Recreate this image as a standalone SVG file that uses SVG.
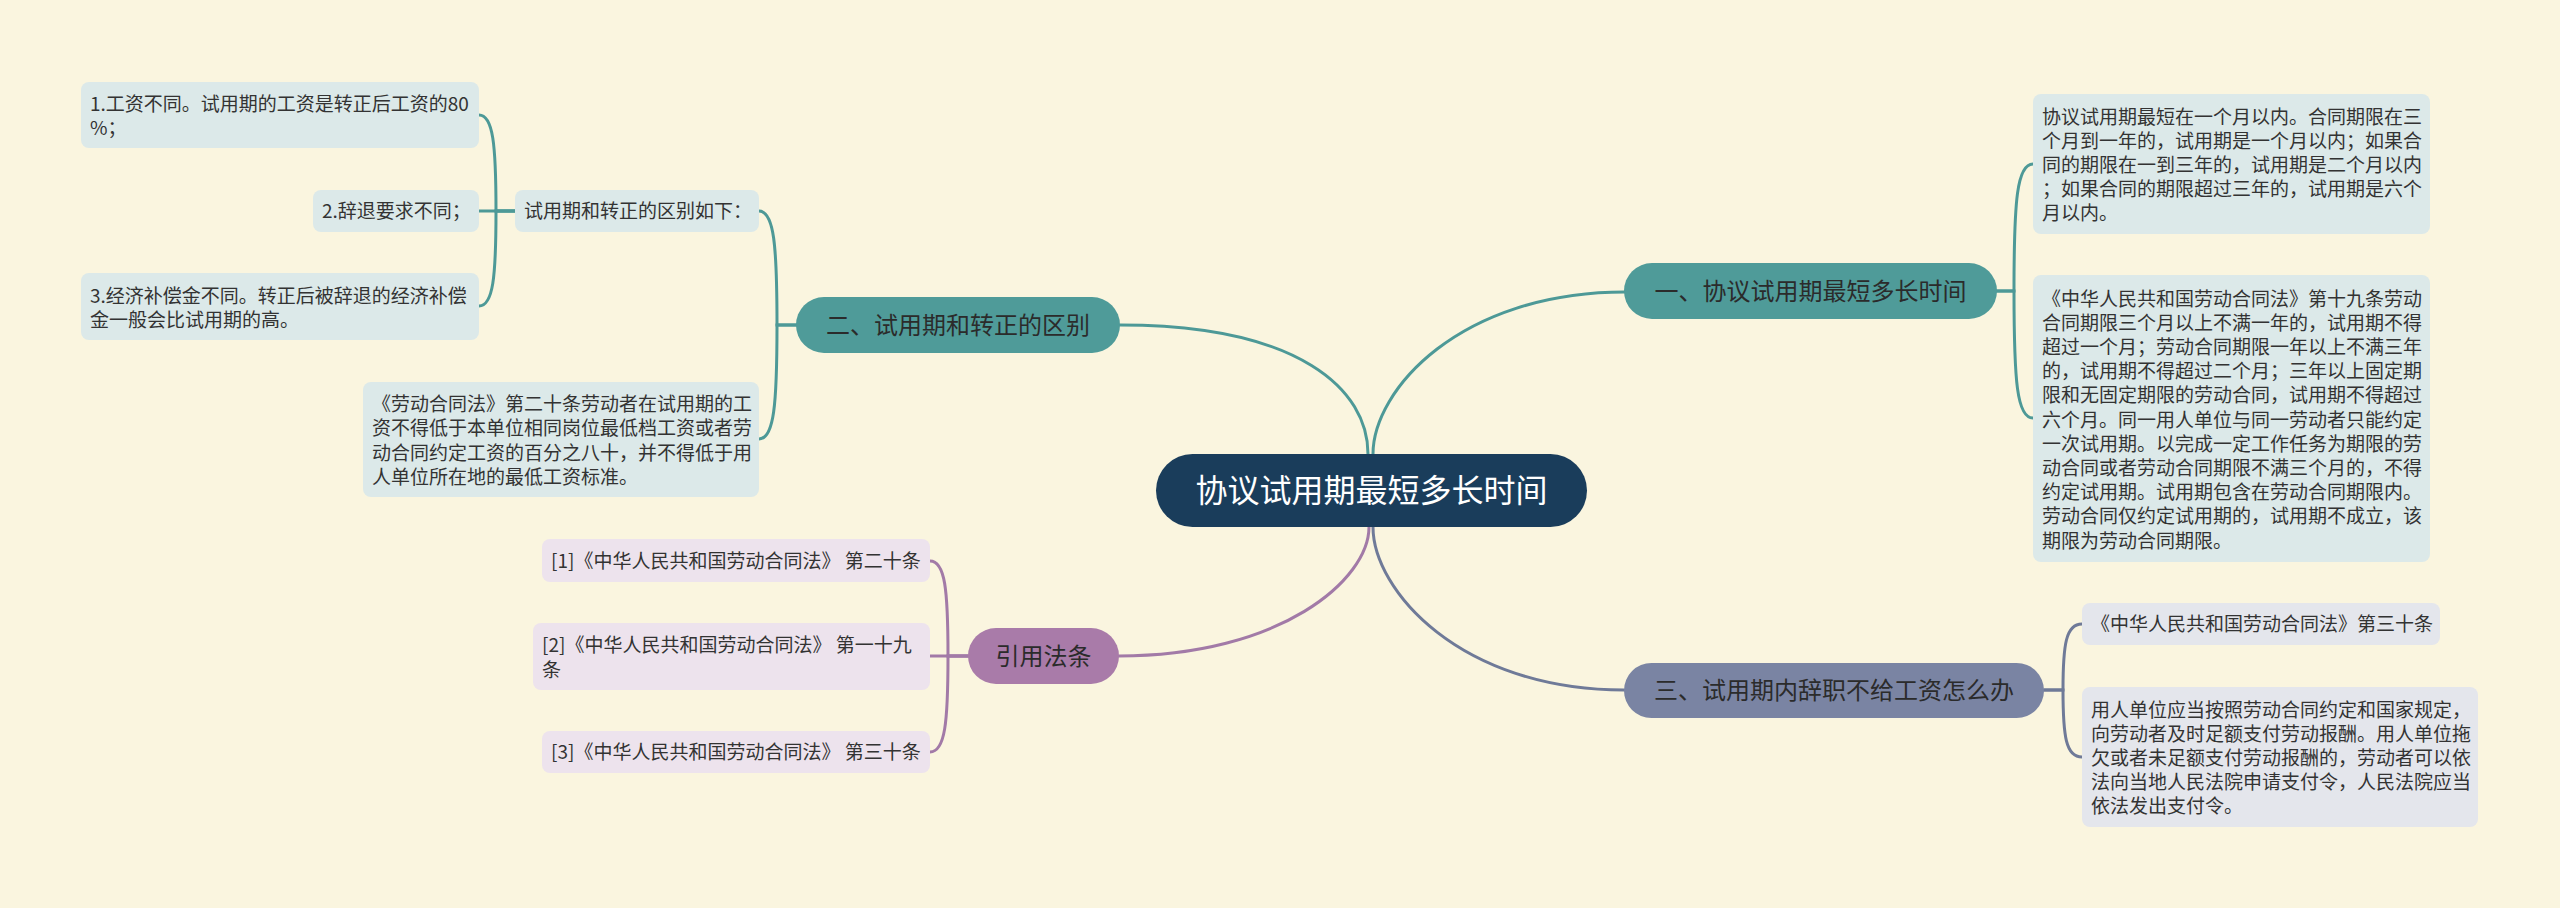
<svg xmlns="http://www.w3.org/2000/svg" width="2560" height="908" viewBox="0 0 2560 908">
<style>
  text { font-family: "Noto Sans CJK SC", "Noto Sans", "Liberation Sans", sans-serif; }
  .t { font-size: 19px; fill: #333333; }
  .br { font-size: 24px; fill: #2b2b2b; text-anchor: middle; }
  .root { font-size: 32px; fill: #ffffff; text-anchor: middle; }
  .c { fill: none; stroke-width: 3; stroke-linecap: round; }
  .teal { stroke: #4d9997; }
  .purple { stroke: #a27aa7; }
  .slate { stroke: #6f7a98; }
  .bt { fill: #dce9e9; }
  .bp { fill: #ede3ed; }
  .bs { fill: #e4e6ec; }
</style>
<rect width="2560" height="908" fill="#faf5df"/>

<g id="connectors">
  <path class="c teal" d="M 1373 454 C 1373 390, 1460 292, 1625 292"/>
  <path class="c teal" d="M 1368 454 C 1368 390, 1300 325, 1120 325"/>
  <path class="c purple" d="M 1369 527 C 1369 580, 1280 656, 1119 656"/>
  <path class="c slate" d="M 1373 527 C 1373 590, 1460 690, 1624 690"/>

  <path class="c teal" d="M 1996 291 H 2014 C 2014 200, 2017 164, 2033 164"/>
  <path class="c teal" d="M 1996 291 H 2014 C 2014 382, 2017 418, 2033 418"/>

  <path class="c teal" d="M 797 325 H 777 C 777 245, 774 211, 759 211"/>
  <path class="c teal" d="M 797 325 H 777 C 777 405, 774 439, 759 439"/>

  <path class="c teal" d="M 515 211 H 496 C 496 144, 493 115, 479 115"/>
  <path class="c teal" d="M 515 211 H 479"/>
  <path class="c teal" d="M 515 211 H 496 C 496 278, 493 306, 479 306"/>

  <path class="c purple" d="M 968 656 H 948 C 948 589, 945 561, 930 561"/>
  <path class="c purple" d="M 968 656 H 930"/>
  <path class="c purple" d="M 968 656 H 948 C 948 723, 945 752, 930 752"/>

  <path class="c slate" d="M 2044 690 H 2063 C 2063 644, 2066 624, 2082 624"/>
  <path class="c slate" d="M 2044 690 H 2063 C 2063 737, 2066 757, 2082 757"/>
</g>

<g id="root">
  <rect x="1156" y="454" width="431" height="73" rx="36.5" fill="#1a3d5b"/>
  <text class="root" x="1371.5" y="502">协议试用期最短多长时间</text>
</g>

<g id="branch1">
  <rect x="1624" y="263" width="373" height="56" rx="28" fill="#4f9b99"/>
  <text class="br" x="1810.5" y="299.5">一、协议试用期最短多长时间</text>
</g>
<g id="branch2">
  <rect x="796" y="297" width="324" height="56" rx="28" fill="#4f9b99"/>
  <text class="br" x="958" y="333.5">二、试用期和转正的区别</text>
</g>
<g id="branch3">
  <rect x="968" y="628" width="151" height="56" rx="28" fill="#a97ba9"/>
  <text class="br" x="1043.5" y="664.5">引用法条</text>
</g>
<g id="branch4">
  <rect x="1624" y="663" width="420" height="55" rx="27.5" fill="#7a84a3"/>
  <text class="br" x="1834" y="699">三、试用期内辞职不给工资怎么办</text>
</g>

<g id="b1-a">
  <rect class="bt" x="2033" y="94" width="397" height="140" rx="8"/>
  <text class="t" x="2042"><tspan x="2042" y="123.6">协议试用期最短在一个月以内。合同期限在三</tspan><tspan x="2042" y="147.8">个月到一年的，试用期是一个月以内；如果合</tspan><tspan x="2042" y="172">同的期限在一到三年的，试用期是二个月以内</tspan><tspan x="2042" y="196.2">；如果合同的期限超过三年的，试用期是六个</tspan><tspan x="2042" y="220.4">月以内。</tspan></text>
</g>
<g id="b1-b">
  <rect class="bt" x="2033" y="275" width="397" height="287" rx="8"/>
  <text class="t" x="2042"><tspan x="2042" y="305.5">《中华人民共和国劳动合同法》第十九条劳动</tspan><tspan x="2042" y="329.7">合同期限三个月以上不满一年的，试用期不得</tspan><tspan x="2042" y="353.9">超过一个月；劳动合同期限一年以上不满三年</tspan><tspan x="2042" y="378.1">的，试用期不得超过二个月；三年以上固定期</tspan><tspan x="2042" y="402.3">限和无固定期限的劳动合同，试用期不得超过</tspan><tspan x="2042" y="426.5">六个月。同一用人单位与同一劳动者只能约定</tspan><tspan x="2042" y="450.7">一次试用期。以完成一定工作任务为期限的劳</tspan><tspan x="2042" y="474.9">动合同或者劳动合同期限不满三个月的，不得</tspan><tspan x="2042" y="499.1">约定试用期。试用期包含在劳动合同期限内。</tspan><tspan x="2042" y="523.3">劳动合同仅约定试用期的，试用期不成立，该</tspan><tspan x="2042" y="547.5">期限为劳动合同期限。</tspan></text>
</g>

<g id="b2-a">
  <rect class="bt" x="515" y="190" width="244" height="42" rx="8"/>
  <text class="t" x="524" y="218">试用期和转正的区别如下：</text>
</g>
<g id="b2-a-1">
  <rect class="bt" x="81" y="82" width="398" height="66" rx="8"/>
  <text class="t" x="90"><tspan x="90" y="111">1.工资不同。试用期的工资是转正后工资的80</tspan><tspan x="90" y="135.2">%；</tspan></text>
</g>
<g id="b2-a-2">
  <rect class="bt" x="313" y="190" width="166" height="42" rx="8"/>
  <text class="t" x="322" y="218">2.辞退要求不同；</text>
</g>
<g id="b2-a-3">
  <rect class="bt" x="81" y="273" width="398" height="67" rx="8"/>
  <text class="t" x="90"><tspan x="90" y="302.5">3.经济补偿金不同。转正后被辞退的经济补偿</tspan><tspan x="90" y="326.7">金一般会比试用期的高。</tspan></text>
</g>
<g id="b2-b">
  <rect class="bt" x="363" y="382" width="396" height="115" rx="8"/>
  <text class="t" x="372"><tspan x="372" y="411.2">《劳动合同法》第二十条劳动者在试用期的工</tspan><tspan x="372" y="435.4">资不得低于本单位相同岗位最低档工资或者劳</tspan><tspan x="372" y="459.6">动合同约定工资的百分之八十，并不得低于用</tspan><tspan x="372" y="483.8">人单位所在地的最低工资标准。</tspan></text>
</g>

<g id="b3-1">
  <rect class="bp" x="542" y="539" width="388" height="43" rx="8"/>
  <text class="t" x="551" y="567.5">[1]《中华人民共和国劳动合同法》 第二十条</text>
</g>
<g id="b3-2">
  <rect class="bp" x="533" y="623" width="397" height="67" rx="8"/>
  <text class="t" x="542"><tspan x="542" y="652.4">[2]《中华人民共和国劳动合同法》 第一十九</tspan><tspan x="542" y="676.6">条</tspan></text>
</g>
<g id="b3-3">
  <rect class="bp" x="542" y="731" width="388" height="42" rx="8"/>
  <text class="t" x="551" y="759">[3]《中华人民共和国劳动合同法》 第三十条</text>
</g>

<g id="b4-1">
  <rect class="bs" x="2082" y="603" width="358" height="42" rx="8"/>
  <text class="t" x="2091" y="631">《中华人民共和国劳动合同法》第三十条</text>
</g>
<g id="b4-2">
  <rect class="bs" x="2082" y="687" width="396" height="140" rx="8"/>
  <text class="t" x="2091"><tspan x="2091" y="716.6">用人单位应当按照劳动合同约定和国家规定，</tspan><tspan x="2091" y="740.8">向劳动者及时足额支付劳动报酬。用人单位拖</tspan><tspan x="2091" y="765">欠或者未足额支付劳动报酬的，劳动者可以依</tspan><tspan x="2091" y="789.2">法向当地人民法院申请支付令，人民法院应当</tspan><tspan x="2091" y="813.4">依法发出支付令。</tspan></text>
</g>
</svg>
